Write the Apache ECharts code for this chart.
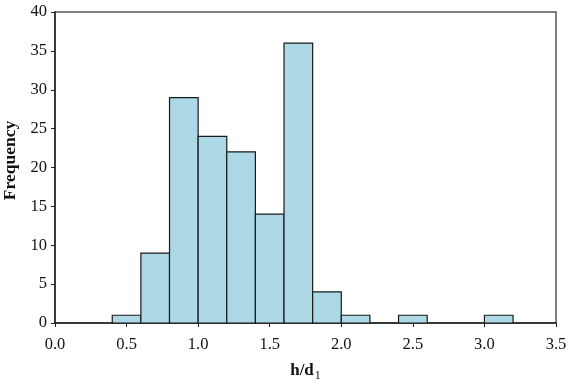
<!DOCTYPE html>
<html>
<head>
<meta charset="utf-8">
<script src="https://cdn.jsdelivr.net/npm/echarts@6/dist/echarts.min.js"></script>
<style>html,body{margin:0;padding:0;background:#fff}#c{width:576px;height:384px}</style>
</head>
<body>
<div id="c"></div>
<script>
var binStart = [0.4, 0.6, 0.8, 1.0, 1.2, 1.4, 1.6, 1.8, 2.0, 2.2, 2.4, 2.6, 2.8, 3.0];
var binEnd   = [0.6, 0.8, 1.0, 1.2, 1.4, 1.6, 1.8, 2.0, 2.2, 2.4, 2.6, 2.8, 3.0, 3.2];
var counts   = [1, 9, 29, 24, 22, 14, 36, 4, 1, 0, 1, 0, 0, 1];
var xTicks = [0.0, 0.5, 1.0, 1.5, 2.0, 2.5, 3.0, 3.5];
var yTicks = [0, 5, 10, 15, 20, 25, 30, 35, 40];

var data = binStart.map(function (s, i) { return [s, binEnd[i], counts[i]]; })
  .filter(function (d) { return d[2] > 0; });

var font = '"Liberation Serif", "Times New Roman", serif';
var chart = echarts.init(document.getElementById('c'));
chart.setOption({
  animation: false,
  grid: { left: 55, top: 12, right: 20, bottom: 61, containLabel: false, outerBoundsMode: 'none',
          show: true, borderColor: '#555', borderWidth: 1.5 },
  xAxis: {
    type: 'value', min: xTicks[0], max: xTicks[xTicks.length - 1], interval: 0.5,
    axisLine: { onZero: false, lineStyle: { color: '#222', width: 1.5 } },
    axisTick: { show: true, length: 4, lineStyle: { color: '#222' } },
    splitLine: { show: false },
    axisLabel: { margin: 13, color: '#111', fontFamily: font, fontSize: 16.5, formatter: function (v) { return v.toFixed(1); } },
    name: '{b|h/d}{s|1}', nameLocation: 'middle', nameGap: 36,
    nameTextStyle: {
      rich: {
        b: { fontFamily: font, fontSize: 17, fontWeight: 'bold', color: '#111', lineHeight: 20, verticalAlign: 'bottom' },
        s: { fontFamily: font, fontSize: 12, color: '#111', lineHeight: 20, verticalAlign: 'bottom', padding: [0, 0, -3, 1] }
      }
    }
  },
  yAxis: {
    type: 'value', min: yTicks[0], max: yTicks[yTicks.length - 1], interval: 5,
    axisLine: { show: true, lineStyle: { color: '#222', width: 1.5 } },
    axisTick: { show: true, length: 4, lineStyle: { color: '#222' } },
    splitLine: { show: false },
    axisLabel: { margin: 8, color: '#111', fontFamily: font, fontSize: 16.5 },
    name: 'Frequency', nameLocation: 'middle', nameGap: 36,
    nameTextStyle: { fontFamily: font, fontSize: 17.5, fontWeight: 'bold', color: '#111', padding: [0, 0, 0, 14] }
  },
  series: [{
    type: 'custom',
    data: data,
    encode: { x: [0, 1], y: 2 },
    renderItem: function (params, api) {
      var p0 = api.coord([api.value(0), 0]);
      var p1 = api.coord([api.value(1), api.value(2)]);
      return {
        type: 'rect',
        shape: { x: p0[0], y: p1[1], width: p1[0] - p0[0], height: p0[1] - p1[1] },
        style: { fill: '#ADD8E6', stroke: '#1a1a1a', lineWidth: 1.2 }
      };
    }
  }]
});
</script>
</body>
</html>
